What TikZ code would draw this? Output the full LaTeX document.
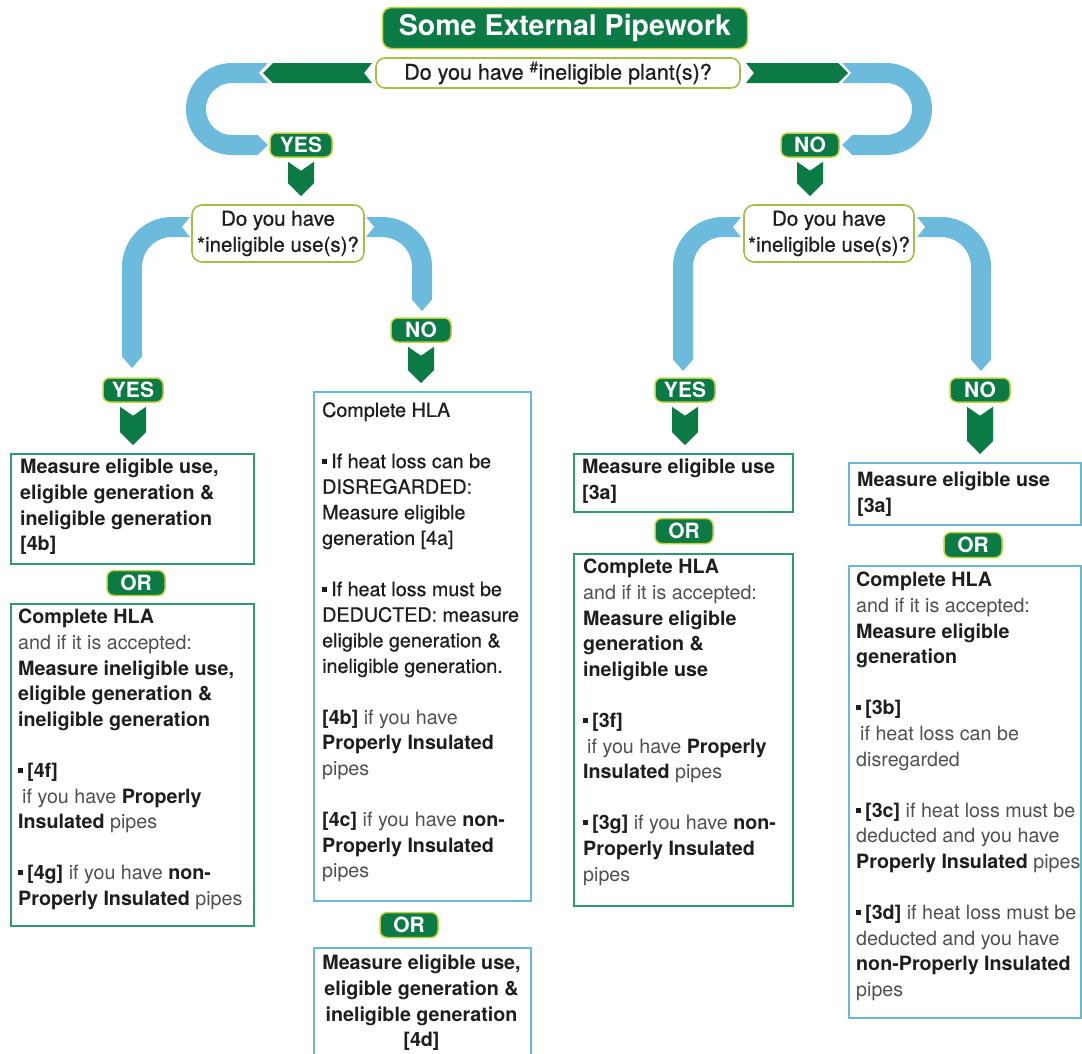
\documentclass[tikz,border=0pt]{standalone}
\usepackage{fontspec}
\setmainfont{TeX Gyre Heros}
\newfontfamily\medfont{TeX Gyre Heros}[FakeBold=0.6]
\usetikzlibrary{calc}
\definecolor{gdark}{HTML}{0B7A45}
\definecolor{gedge}{HTML}{BFD13A}
\definecolor{pipe}{HTML}{6CBBDD}
\definecolor{qedge}{HTML}{A3BF45}
\definecolor{boxg}{HTML}{2F9A6B}
\definecolor{boxb}{HTML}{6BB7D6}
\definecolor{txt}{HTML}{1E1E1E}
\definecolor{lt}{HTML}{505050}
\newcommand\sqb{\raisebox{4.5pt}{\rule{5pt}{5pt}}\hspace{4pt}}
\newcommand\lite[1]{{\normalfont\color{lt}#1}}
\newcommand\gdown[2]{%
  \path ($(#1.south)+(0,4)$) coordinate (t) ($(#2.north)+(0,-8)$) coordinate (b);
  \fill[gdark] ($(t)+(-13,0)$) -- ($(t)+(0,9)$) -- ($(t)+(13,0)$) -- ($(t|-b)+(13,-13)$) -- (t|-b) -- ($(t|-b)+(-13,-13)$) -- cycle;}
\tikzset{
  badge/.style={fill=gdark, draw=gedge, line width=1.5pt, rounded corners=7pt, text=white,
    font=\fontsize{21}{21}\selectfont\bfseries, inner sep=0pt, minimum height=24pt, minimum width=60pt},
  question/.style={draw=qedge, line width=1.6pt, fill=white, rounded corners=10pt, align=center,
    text=txt, inner sep=0pt},
  gbox/.style={draw=boxg, line width=1.6pt, fill=white, inner sep=0pt, anchor=north west},
  bbox/.style={draw=boxb, line width=1.6pt, fill=white, inner sep=0pt, anchor=north west},
  btext/.style={anchor=north west, align=left, inner sep=0pt, text=txt,
    font=\fontsize{19.7}{25.6}\selectfont},
  band/.style={draw=pipe, line width=20pt},
}
\begin{document}
\begin{tikzpicture}[x=1pt,y=-1pt]
\useasboundingbox (0,0) rectangle (1082,1053);
\clip (0,0) rectangle (1082,1053);

% ---------- blue pipes (top level)
\draw[band, rounded corners=36pt] (268,73) -- (196,73) -- (196,145) -- (258,145);
\fill[pipe] (257.5,135) -- (268,145) -- (257.5,155) -- cycle;
\fill[white] (268.5,62.5) -- (259,73) -- (268.5,83.5) -- cycle;
\draw[band, rounded corners=36pt] (842,73) -- (922,73) -- (922,145) -- (852,145);
\fill[pipe] (852.5,135) -- (842,145) -- (852.5,155) -- cycle;
\fill[white] (841.5,62.5) -- (851,73) -- (841.5,83.5) -- cycle;

% ---------- green banners
\fill[gdark] (263,73) -- (273,63) -- (372,63) -- (364,73) -- (372,83) -- (273,83) -- cycle;
\fill[gdark] (746,63) -- (838,63) -- (848,73) -- (838,83) -- (746,83) -- (754,73) -- cycle;

% ---------- blue pipes (second level)
\draw[band, rounded corners=40pt] (190,227) -- (132,227) -- (132,357);
\fill[pipe] (122,356.5) -- (132,368) -- (142,356.5) -- cycle;
\fill[white] (190.5,216.5) -- (182,227) -- (190.5,237.5) -- cycle;
\draw[band, rounded corners=40pt] (366,227) -- (422,227) -- (422,300);
\fill[pipe] (412,299.5) -- (422,311) -- (432,299.5) -- cycle;
\fill[white] (365.5,216.5) -- (374,227) -- (365.5,237.5) -- cycle;
\draw[band, rounded corners=40pt] (741,227) -- (683,227) -- (683,360);
\fill[pipe] (673,359.5) -- (683,371) -- (693,359.5) -- cycle;
\fill[white] (741.5,216.5) -- (733,227) -- (741.5,237.5) -- cycle;
\draw[band, rounded corners=40pt] (917,227) -- (981,227) -- (981,360);
\fill[pipe] (971,359.5) -- (981,371) -- (991,359.5) -- cycle;
\fill[white] (916.5,216.5) -- (925,227) -- (916.5,237.5) -- cycle;

% ---------- title and questions
\node[badge, minimum width=365pt, minimum height=41pt, rounded corners=9pt,
  font=\fontsize{28.5}{28.5}\selectfont\bfseries] (title) at (565,28) {Some External Pipework};
\node[question, minimum width=364pt, minimum height=30pt, rounded corners=9pt,
  font=\fontsize{21.5}{21.5}\medfont] (q1) at (558,73) {Do you have \textsuperscript{\#}ineligible plant(s)?};
\node[question, minimum width=172pt, minimum height=57pt,
  font=\fontsize{20.5}{26}\medfont] (q2l) at (278,233.5) {Do you have\\*ineligible use(s)?};
\node[question, minimum width=170pt, minimum height=57pt,
  font=\fontsize{20.5}{26}\medfont] (q2r) at (829,233.5) {Do you have\\*ineligible use(s)?};

% ---------- badges
\node[badge, minimum width=62pt] (yes0) at (301,145) {YES};
\node[badge, minimum width=58pt] (no0) at (810,145) {NO};
\node[badge] (yes1) at (133,390) {YES};
\node[badge] (no1) at (421,330) {NO};
\node[badge] (yes2) at (685,390) {YES};
\node[badge] (no2) at (980,390) {NO};

% ---------- boxes
\node[gbox, minimum width=243pt, minimum height=110pt] (boxA) at (10,453) {};
\node[gbox, minimum width=243pt, minimum height=322pt] (boxB) at (10,603) {};
\node[bbox, minimum width=217pt, minimum height=509pt] (boxC) at (313,391) {};
\node[bbox, minimum width=217pt, minimum height=120pt] (boxD) at (313,947) {};
\node[gbox, minimum width=219pt, minimum height=58pt] (boxE) at (573,453) {};
\node[gbox, minimum width=219pt, minimum height=352pt] (boxF) at (573,553) {};
\node[bbox, minimum width=232pt, minimum height=62pt] (boxG) at (848,462) {};
\node[bbox, minimum width=232pt, minimum height=452pt] (boxH) at (848,565) {};

\node[badge, minimum width=58pt, minimum height=25pt] (or1) at (136,583) {OR};
\node[badge, minimum width=58pt, minimum height=25pt] (or2) at (409,925) {OR};
\node[badge, minimum width=58pt, minimum height=25pt] (or3) at (684,531) {OR};
\node[badge, minimum width=58pt, minimum height=25pt] (or4) at (973,545) {OR};

% ---------- green down chevrons
\gdown{yes0}{q2l}
\gdown{no0}{q2r}
\gdown{yes1}{boxA}
\gdown{no1}{boxC}
\gdown{yes2}{boxE}
\gdown{no2}{boxG}

% ---------- box texts
\node[btext, font=\fontsize{19.7}{25.6}\selectfont\bfseries] (tA) at (20,459)
  {Measure eligible use,\\eligible generation \&\\ineligible generation\\{}[4b]};

\node[btext] (tB) at (18,609) {%
  \textbf{Complete HLA}\\
  \lite{and if it is accepted:}\\
  \textbf{Measure ineligible use,}\\
  \textbf{eligible generation \&}\\
  \textbf{ineligible generation}\\[25.6pt]
  \sqb\textbf{[4f]}\\
  \hspace{4pt}\lite{if you have} \textbf{Properly}\\
  \textbf{Insulated} \lite{pipes}\\[25.6pt]
  \sqb\textbf{[4g]} \lite{if you have} \textbf{non-}\\
  \textbf{Properly Insulated} \lite{pipes}};

\node[btext, font=\fontsize{19.7}{25.6}\medfont] (tC) at (322,402) {%
  Complete HLA\\[25.6pt]
  \sqb If heat loss can be\\
  DISREGARDED:\\
  Measure eligible\\
  generation [4a]\\[25.6pt]
  \sqb If heat loss must be\\
  DEDUCTED: measure\\
  eligible generation \&\\
  ineligible generation.\\[25.6pt]
  {\normalfont\bfseries [4b]} \lite{if you have}\\
  {\normalfont\bfseries Properly Insulated}\\
  \lite{pipes}\\[25.6pt]
  {\normalfont\bfseries [4c]} \lite{if you have} {\normalfont\bfseries non-}\\
  {\normalfont\bfseries Properly Insulated}\\
  \lite{pipes}};

\node[btext, anchor=north, align=center, font=\fontsize{19.7}{25.6}\selectfont\bfseries] (tD) at (421.5,955)
  {Measure eligible use,\\eligible generation \&\\ineligible generation\\{}[4d]};

\node[btext, font=\fontsize{19.7}{25.6}\selectfont\bfseries] (tE) at (582,459)
  {Measure eligible use\\{}[3a]};

\node[btext] (tF) at (583,559) {%
  \textbf{Complete HLA}\\
  \lite{and if it is accepted:}\\
  \textbf{Measure eligible}\\
  \textbf{generation \&}\\
  \textbf{ineligible use}\\[25.6pt]
  \sqb\textbf{[3f]}\\
  \hspace{4pt}\lite{if you have} \textbf{Properly}\\
  \textbf{Insulated} \lite{pipes}\\[25.6pt]
  \sqb\textbf{[3g]} \lite{if you have} \textbf{non-}\\
  \textbf{Properly Insulated}\\
  \lite{pipes}};

\node[btext, font=\fontsize{19.7}{25.6}\selectfont\bfseries] (tG) at (857,472)
  {Measure eligible use\\{}[3a]};

\node[btext] (tH) at (856,572) {%
  \textbf{Complete HLA}\\
  \lite{and if it is accepted:}\\
  \textbf{Measure eligible}\\
  \textbf{generation}\\[25.6pt]
  \sqb\textbf{[3b]}\\
  \hspace{4pt}\lite{if heat loss can be}\\
  \lite{disregarded}\\[25.6pt]
  \sqb\textbf{[3c]} \lite{if heat loss must be}\\
  \lite{deducted and you have}\\
  \textbf{Properly Insulated} \lite{pipes}\\[25.6pt]
  \sqb\textbf{[3d]} \lite{if heat loss must be}\\
  \lite{deducted and you have}\\
  \textbf{non-Properly Insulated}\\
  \lite{pipes}};
\end{tikzpicture}
\end{document}
